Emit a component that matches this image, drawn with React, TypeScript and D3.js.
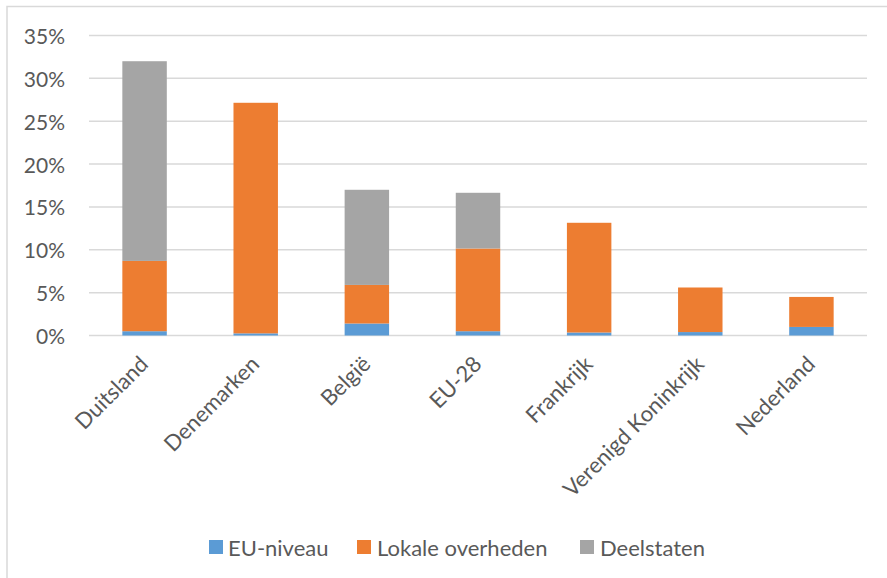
import * as d3 from "d3";

const categories = [
  "Duitsland",
  "Denemarken",
  "België",
  "EU-28",
  "Frankrijk",
  "Verenigd Koninkrijk",
  "Nederland",
];
const seriesNames = ["EU-niveau", "Lokale overheden", "Deelstaten"];
const euNiveau = [0.5, 0.25, 1.4, 0.5, 0.35, 0.4, 1.0];
const lokaleOverheden = [8.2, 26.9, 4.5, 9.65, 12.8, 5.2, 3.5];
const deelstaten = [23.3, 0, 11.1, 6.5, 0, 0, 0];
const yTicks = [0, 5, 10, 15, 20, 25, 30, 35];

const COLORS = ["#5B9BD5", "#ED7D31", "#A5A5A5"];
const TEXT = "#595959";
const GRID = "#D9D9D9";
const FONT = "Lato, 'Open Sans', sans-serif";

const W = 887;
const H = 578;
const PLOT = { left: 89, right: 867, top: 35.5, bottom: 335.5 };

type Row = { name: string; [k: string]: number | string };

export default function App() {
  const rows: Row[] = categories.map((c, i) => ({
    name: c,
    [seriesNames[0]]: euNiveau[i],
    [seriesNames[1]]: lokaleOverheden[i],
    [seriesNames[2]]: deelstaten[i],
  }));

  const stacked = d3.stack<Row>().keys(seriesNames)(rows);

  const x = d3
    .scaleBand()
    .domain(categories)
    .range([PLOT.left, PLOT.right])
    .paddingInner(0.6)
    .paddingOuter(0.3);

  const y = d3.scaleLinear().domain([0, 35]).range([PLOT.bottom, PLOT.top]);

  // legend positions (square x, text x)
  const legend = [
    { sq: 209, tx: 228 },
    { sq: 357, tx: 377 },
    { sq: 580, tx: 600 },
  ];

  return (
    <svg
      width={W}
      height={H}
      style={{ position: "absolute", left: 0, top: 0, background: "#fff" }}
      fontFamily={FONT}
    >
      <rect x={0} y={0} width={W} height={H} fill="#fff" />
      {/* chart area border */}
      <rect
        x={7}
        y={6.5}
        width={W + 20}
        height={H + 20}
        fill="none"
        stroke={GRID}
        strokeWidth={1.5}
      />

      {/* gridlines + y labels */}
      {yTicks.map((t) => (
        <g key={t}>
          <line
            x1={PLOT.left}
            x2={PLOT.right}
            y1={y(t)}
            y2={y(t)}
            stroke={GRID}
            strokeWidth={1.5}
          />
          <text
            x={65}
            y={y(t)}
            textAnchor="end"
            dominantBaseline="central"
            fontSize={21}
            fill={TEXT}
          >
            {t}%
          </text>
        </g>
      ))}

      {/* stacked bars */}
      {stacked.map((layer, si) => (
        <g key={layer.key} fill={COLORS[si]}>
          {layer.map((d, i) =>
            d[1] - d[0] > 0 ? (
              <rect
                key={i}
                x={x(categories[i]) as number}
                width={x.bandwidth()}
                y={y(d[1])}
                height={y(d[0]) - y(d[1])}
              />
            ) : null
          )}
        </g>
      ))}

      {/* x labels */}
      {categories.map((c) => {
        const cx = (x(c) as number) + x.bandwidth() / 2 + 5;
        const cy = PLOT.bottom + 30;
        return (
          <text
            key={c}
            x={cx}
            y={cy}
            textAnchor="end"
            fontSize={22}
            fill={TEXT}
            transform={`rotate(-45, ${cx}, ${cy})`}
          >
            {c}
          </text>
        );
      })}

      {/* legend */}
      {seriesNames.map((s, i) => (
        <g key={s}>
          <rect
            x={legend[i].sq}
            y={540}
            width={14}
            height={14}
            fill={COLORS[i]}
          />
          <text
            x={legend[i].tx}
            y={547}
            dominantBaseline="central"
            fontSize={22}
            fill={TEXT}
          >
            {s}
          </text>
        </g>
      ))}
    </svg>
  );
}
